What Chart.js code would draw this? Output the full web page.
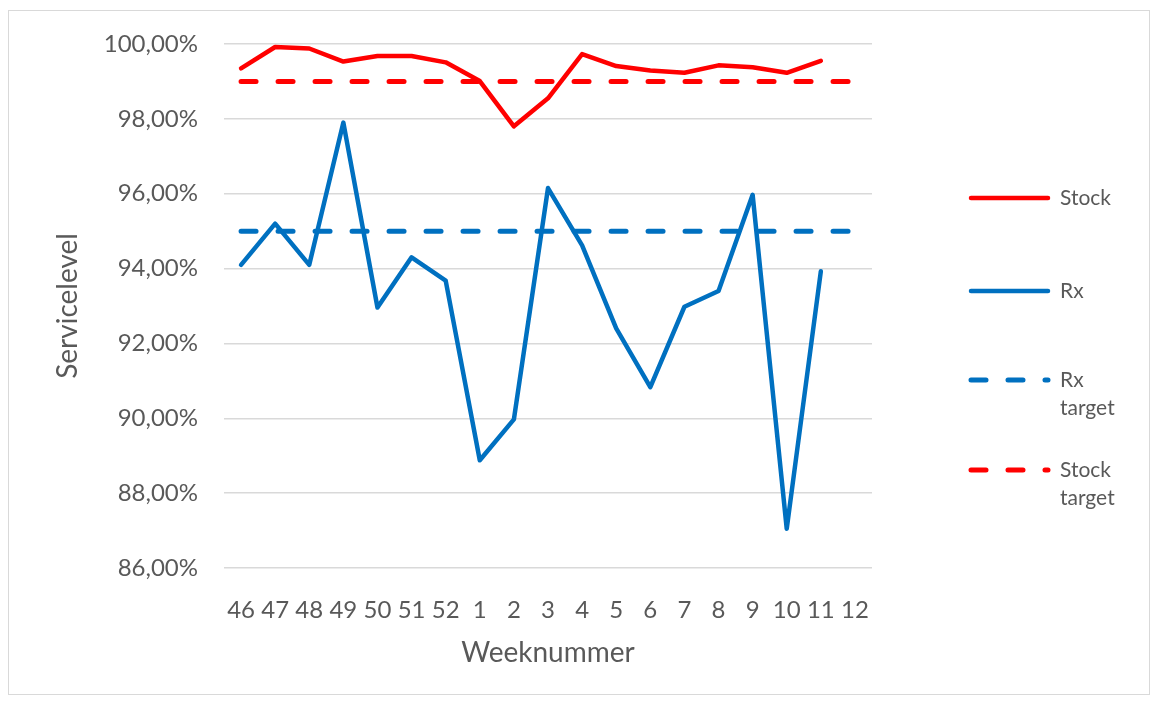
<!DOCTYPE html>
<html>
<head>
<meta charset="utf-8">
<script src="https://cdn.jsdelivr.net/npm/chart.js@4/dist/chart.umd.min.js"></script>
<style>
  html, body { margin: 0; padding: 0; background: #fff; overflow: hidden; }
  #serviceChart { position: absolute; left: 0; top: 0; }
</style>
</head>
<body>
<canvas id="serviceChart" width="1157" height="704"></canvas>
<script>
// Servicelevel per week - Chart.js

const weeks = ['46', '47', '48', '49', '50', '51', '52', '1', '2', '3', '4', '5', '6', '7', '8', '9', '10', '11', '12'];
const stock = [99.35, 99.92, 99.88, 99.53, 99.68, 99.68, 99.51, 99.01, 97.80, 98.55, 99.73, 99.41, 99.29, 99.23, 99.43, 99.38, 99.23, 99.55, null];
const rx = [94.10, 95.20, 94.10, 97.90, 92.96, 94.30, 93.68, 88.88, 89.97, 96.15, 94.62, 92.40, 90.83, 92.98, 93.40, 95.97, 87.05, 93.93, null];
const rxTarget = weeks.map(() => 95);
const stockTarget = weeks.map(() => 99);
const yTicks = [86, 88, 90, 92, 94, 96, 98, 100];

const RED = '#ff0000';
const BLUE = '#0070c0';
const TEXT = '#595959';
const FONT = 'Lato';
const DASH = [15, 22];

// Frame round the whole picture
const framePlugin = {
  id: 'frame',
  beforeDraw(chart) {
    const ctx = chart.ctx;
    ctx.save();
    ctx.fillStyle = '#fff';
    ctx.fillRect(0, 0, chart.width, chart.height);
    ctx.strokeStyle = '#d9d9d9';
    ctx.lineWidth = 1;
    ctx.strokeRect(8.5, 10.5, 1141, 684);
    ctx.restore();
  }
};

// Legend on the right, labels may wrap on two lines
const sideLegend = {
  id: 'sideLegend',
  afterDraw(chart) {
    const ctx = chart.ctx;
    const x0 = chart.chartArea.right + 96;
    const tops = [198, 291, 380, 470];
    ctx.save();
    chart.data.datasets.forEach((ds, i) => {
      const y = tops[i];
      ctx.beginPath();
      ctx.strokeStyle = ds.borderColor;
      ctx.lineWidth = ds.borderWidth;
      ctx.lineCap = 'round';
      ctx.setLineDash(ds.borderDash || []);
      ctx.moveTo(x0 + 3, y);
      ctx.lineTo(x0 + 80, y);
      ctx.stroke();
      ctx.setLineDash([]);
      ctx.fillStyle = TEXT;
      ctx.font = '21px ' + FONT;
      ctx.textBaseline = 'middle';
      ctx.textAlign = 'left';
      ds.legendLines.forEach((t, j) => ctx.fillText(t, x0 + 92, y + j * 28));
    });
    ctx.restore();
  }
};

const ctx = document.getElementById('serviceChart');
new Chart(ctx, {
  type: 'line',
  data: {
    labels: weeks,
    datasets: [{
      label: 'Stock',
      legendLines: ['Stock'],
      data: stock,
      borderColor: RED,
      borderWidth: 4.5,
      order: 1
    }, {
      label: 'Rx',
      legendLines: ['Rx'],
      data: rx,
      borderColor: BLUE,
      borderWidth: 4.5,
      order: 2
    }, {
      label: 'Rx target',
      legendLines: ['Rx', 'target'],
      data: rxTarget,
      borderColor: BLUE,
      borderWidth: 5,
      borderDash: DASH,
      order: 0
    }, {
      label: 'Stock target',
      legendLines: ['Stock', 'target'],
      data: stockTarget,
      borderColor: RED,
      borderWidth: 5,
      borderDash: DASH,
      order: 0
    }]
  },
  options: {
    responsive: false,
    animation: false,
    devicePixelRatio: 1,
    elements: {
      point: { radius: 0, hoverRadius: 0 },
      line: { tension: 0, borderCapStyle: 'round', borderJoinStyle: 'round', fill: false }
    },
    layout: {
      padding: { left: 47, top: 44, right: 285, bottom: 30 }
    },
    plugins: {
      legend: { display: false },
      tooltip: { enabled: false }
    },
    scales: {
      x: {
        offset: true,
        grid: { display: false },
        border: { display: false },
        ticks: {
          color: TEXT,
          font: { family: FONT, size: 24 },
          padding: 20,
          autoSkip: false,
          maxRotation: 0,
          minRotation: 0
        },
        title: {
          display: true,
          text: 'Weeknummer',
          color: TEXT,
          font: { family: FONT, size: 28 }
        },
        afterFit(scale) { scale.height = 106; }
      },
      y: {
        min: yTicks[0],
        max: yTicks[yTicks.length - 1],
        afterBuildTicks(scale) { scale.ticks = yTicks.map(v => ({ value: v })); },
        grid: { color: '#d9d9d9', lineWidth: 1.5, drawTicks: false },
        border: { display: false },
        ticks: {
          color: TEXT,
          font: { family: FONT, size: 24 },
          padding: 26,
          callback: v => v.toFixed(2).replace('.', ',') + '%'
        },
        title: {
          display: true,
          text: 'Servicelevel',
          color: TEXT,
          font: { family: FONT, size: 28 }
        },
        afterFit(scale) { scale.width = 177; }
      }
    }
  },
  plugins: [framePlugin, sideLegend]
});
</script>
</body>
</html>
